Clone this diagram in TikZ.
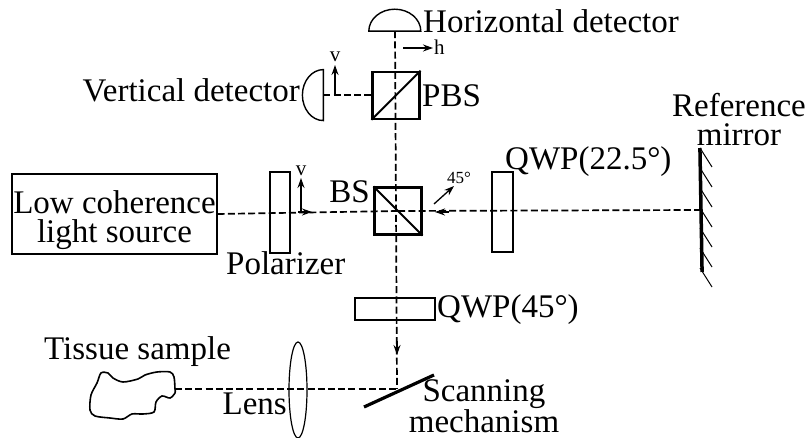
\documentclass[tikz,border=0pt]{standalone}
\usepackage{fontspec}
\setmainfont{Liberation Serif}
\usetikzlibrary{positioning,shapes.geometric,arrows.meta}

\tikzset{
  cube/.style={draw, line width=2.2pt, minimum size=47pt, inner sep=0pt},
  plate/.style={draw, line width=1.2pt, inner sep=0pt},
  caption/.style={inner sep=0pt, font=\fontsize{33}{29}\selectfont, align=center},
  smallcaption/.style={inner sep=0pt, font=\fontsize{21}{21}\selectfont},
  beam/.style={line width=1.7pt, dash pattern=on 7pt off 3.2pt},
  pol/.style={line width=1.3pt, -{Stealth[length=10pt,width=7pt]}},
}

\begin{document}
\begin{tikzpicture}[x=1pt, y=1pt]
    \useasboundingbox (0,0) rectangle (808,438);
    % components
    \node (bs) [cube] at (398,227) {};
    \node (pbs) [cube, above=66.5pt of bs, xshift=-2pt] {};
    \node (source) [plate, minimum width=205pt, minimum height=80pt] at (114.5,224) {};
    \node (polarizer) [plate, minimum width=20pt, minimum height=81pt] at (280,225.5) {};
    \node (qwpa) [plate, minimum width=21pt, minimum height=80pt] at (502.5,226) {};
    \node (qwpb) [plate, minimum width=80pt, minimum height=22pt] at (395,129) {};
    \node (lens) [draw, ellipse, line width=1.2pt, inner sep=0pt, minimum width=18pt, minimum height=96pt] at (298,48) {};
    \node (mirror) [fill=black, inner sep=0pt, minimum width=3.5pt, minimum height=124pt, rotate=1] at (701,228) {};
    \node (hdet) [minimum width=52pt, minimum height=22pt, inner sep=0pt] at (395,418) {};
    \node (vdet) [minimum width=21pt, minimum height=51pt, inner sep=0pt, left=48pt of pbs] {};
    \coordinate (scan) at (397,49);
    \coordinate (tissue) at (175,49);

    % detectors, mirrors
    \draw[line width=1.4pt] (hdet.south west) arc[start angle=180, end angle=0, x radius=26pt, y radius=22pt] -- cycle;
    \draw[line width=1.4pt] (vdet.north east) arc[start angle=90, end angle=270, x radius=21pt, y radius=25.5pt] -- cycle;
    \draw[line width=2pt] (pbs.south west) -- (pbs.north east);
    \draw[line width=2pt] (bs.north west) -- (bs.south east);
    \draw[line width=3.2pt] (364,31) -- (434,63);
    \foreach \y in {290,270,250,230,210,190,170}
      \draw[line width=1pt] (700,\y) -- ++(12,-19);
    \draw[line width=1.6pt] plot[smooth cycle, tension=0.5] coordinates {
      (175,49) (174,61) (170,66) (157,66) (145,63) (138,59) (123,56) (113,60) (108,65)
      (101,65) (97,55) (91,43) (90,28) (95,22) (110,20) (123,19) (132,24) (143,24)
      (154,26) (156,36) (162,42) (170,40) (175,45)};

    % beams
    \draw[beam] (hdet.south) -- (scan);
    \draw[beam] (source.east) -- (bs.center);
    \draw[beam] (mirror.center) -- (bs.center);
    \draw[beam] (vdet.east) -- (pbs.west);
    \draw[beam] (tissue) -- (scan);

    % arrows
    \coordinate (tipa) at (312,226);
    \coordinate (tipb) at (435,226);
    \coordinate (tipc) at (397,83);
    \draw[pol] (tipa) ++(-14,0) -- (tipa);
    \draw[pol] (tipb) ++(14,0) -- (tipb);
    \draw[pol] (tipc) ++(0,14) -- (tipc);
    \draw[pol] (403,390) -- (433,390);
    \draw[pol] (335,342) -- (335,373);
    \draw[pol] (301,227) -- (301,260);
    \draw[pol] (434,234) -- (454,252);

    % labels
    \node (hlabel) [caption, anchor=base west] at (423,405) {Horizontal detector};
    \node (vlabel) [caption, anchor=base east] at (300,336) {Vertical detector};
    \node (pbslabel) [caption, anchor=base west] at (422,331) {PBS};
    \node (bslabel) [caption, anchor=base east] at (370,235) {BS};
    \node (qwpalabel) [caption, anchor=base west] at (505,268) {QWP(22.5°)};
    \node (reflabel) [caption] at (739,318) {Reference\\mirror};
    \node (sourcelabel) [caption] at (114.5,218) {Low coherence\\light source};
    \node (pollabel) [caption, anchor=base west] at (226,163) {Polarizer};
    \node (qwpblabel) [caption, anchor=base west] at (437,120) {QWP(45°)};
    \node (tissuelabel) [caption, anchor=base west] at (44,78) {Tissue sample};
    \node (lenslabel) [caption, anchor=base east] at (287,23) {Lens};
    \node (scanlabel) [caption] at (484,32) {Scanning\\mechanism};
    \node (hsmall) [smallcaption, anchor=base west] at (434,383) {h};
    \node (vsmalla) [smallcaption, anchor=base] at (335,376) {v};
    \node (vsmallb) [smallcaption, anchor=base] at (301,262) {v};
    \node (anglelabel) [smallcaption, anchor=base west, font=\fontsize{17}{17}\selectfont] at (447,254) {45°};
  \end{tikzpicture}
\end{document}
